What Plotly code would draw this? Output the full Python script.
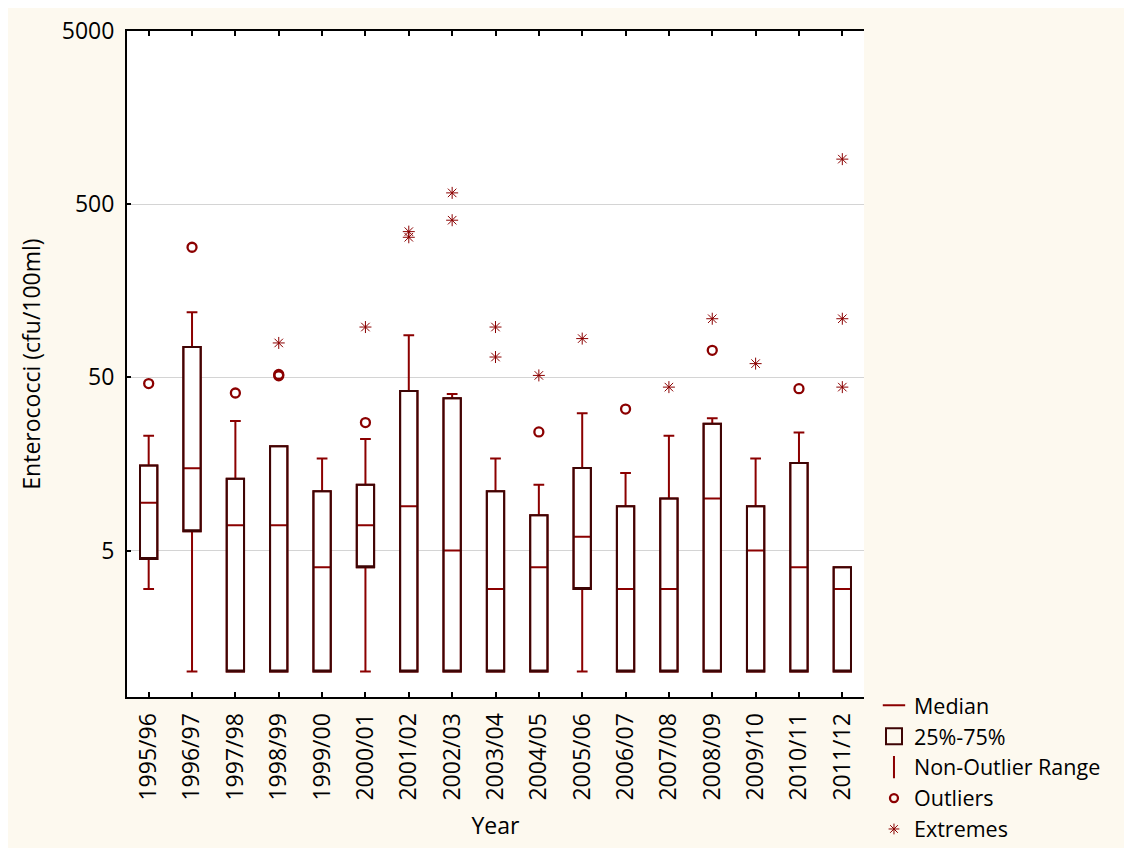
import plotly.graph_objects as go

years = [
    "1995/96", "1996/97", "1997/98", "1998/99", "1999/00", "2000/01",
    "2001/02", "2002/03", "2003/04", "2004/05", "2005/06", "2006/07",
    "2007/08", "2008/09", "2009/10", "2010/11", "2011/12",
]

# box statistics (cfu/100ml)
q1 = [4.47, 6.46, 1, 1, 1, 4, 1, 1, 1, 1, 3, 1, 1, 1, 1, 1, 1]
median = [9.44, 14.95, 7, 7, 4, 7, 9, 5, 3, 4, 6, 3, 3, 10, 5, 4, 3]
q3 = [15.5, 74.8, 13, 20, 11, 12, 41.7, 37.9, 11, 8, 15, 9, 10, 27, 9, 16, 4]
whisker_low = [3, 1, 1, 1, 1, 1, 1, 1, 1, 1, 1, 1, 1, 1, 1, 1, 1]
whisker_high = [23, 119, 28, 20, 17, 22, 87.5, 40, 17, 12, 31, 14, 23, 29, 17, 24, 4]

outlier_years = [
    "1995/96", "1996/97", "1997/98", "1998/99", "1998/99", "2000/01",
    "2004/05", "2006/07", "2008/09", "2010/11",
]
outlier_values = [46, 282, 40.6, 51, 52, 27.4, 24.2, 32.8, 71.6, 43]

extreme_years = [
    "1998/99", "2000/01", "2001/02", "2001/02", "2002/03", "2002/03",
    "2003/04", "2003/04", "2004/05", "2005/06", "2007/08", "2008/09",
    "2009/10", "2011/12", "2011/12", "2011/12",
]
extreme_values = [
    79, 97.6, 347, 322, 581, 404,
    97.6, 65.5, 51.3, 83.7, 43.9, 109,
    60, 910, 109, 43.9,
]

y_ticks = [5, 50, 500, 5000]
right_ticks = [3.07, 13.4, 59.2, 259, 1146]

RED = "#8b0000"
BROWN = "#3e0505"
FONT = "Open Sans, Liberation Sans, Arial, sans-serif"

fig = go.Figure()

# whiskers + red median
fig.add_trace(go.Box(
    x=years, q1=q1, median=median, q3=q3,
    lowerfence=whisker_low, upperfence=whisker_high,
    width=0.4, whiskerwidth=0.62,
    line=dict(color=RED, width=2), fillcolor="white",
    boxpoints=False, showlegend=False, hoverinfo="skip",
))
# darker box outline on top
fig.add_trace(go.Box(
    x=years, q1=q1, median=q1, q3=q3,
    lowerfence=q1, upperfence=q3,
    width=0.4, whiskerwidth=0,
    line=dict(color=BROWN, width=2), fillcolor="rgba(0,0,0,0)",
    boxpoints=False, showlegend=False, hoverinfo="skip",
))

fig.add_trace(go.Scatter(
    x=outlier_years, y=outlier_values, mode="markers",
    marker=dict(symbol="circle-open", size=9, color=RED, line=dict(width=2.3, color=RED)),
    showlegend=False,
))
fig.add_trace(go.Scatter(
    x=extreme_years, y=extreme_values, mode="markers",
    marker=dict(symbol="asterisk-open", size=10, color=RED, line=dict(width=1, color=RED)),
    showlegend=False,
))

# legend-only entries
fig.add_trace(go.Scatter(
    x=[None], y=[None], mode="markers", name="Median",
    marker=dict(symbol="line-ew-open", size=16, color=RED, line=dict(width=2, color=RED)),
))
fig.add_trace(go.Scatter(
    x=[None], y=[None], mode="markers", name="25%-75%",
    marker=dict(symbol="square-open", size=16, color=BROWN, line=dict(width=2, color=BROWN)),
))
fig.add_trace(go.Scatter(
    x=[None], y=[None], mode="markers", name="Non-Outlier Range",
    marker=dict(symbol="line-ns-open", size=16, color=RED, line=dict(width=2, color=RED)),
))
fig.add_trace(go.Scatter(
    x=[None], y=[None], mode="markers", name="Outliers",
    marker=dict(symbol="circle-open", size=8, color=RED, line=dict(width=2.3, color=RED)),
))
fig.add_trace(go.Scatter(
    x=[None], y=[None], mode="markers", name="Extremes",
    marker=dict(symbol="asterisk-open", size=9, color=RED, line=dict(width=1, color=RED)),
))

fig.update_layout(
    width=1132, height=848,
    margin=dict(l=119, r=276, t=23, b=159),
    paper_bgcolor="#fdf9ef",
    plot_bgcolor="white",
    font=dict(family=FONT, size=23, color="black"),
    boxmode="overlay",
    legend=dict(
        xref="container", yref="container",
        x=0.765, y=0.202, xanchor="left", yanchor="top",
        bgcolor="rgba(0,0,0,0)", font=dict(size=21.5),
        tracegroupgap=0, itemwidth=30,
    ),
    xaxis=dict(
        title=dict(text="Year", standoff=18, font=dict(size=23)),
        type="category", range=[-0.5, 16.5], automargin=False,
        tickangle=-90, ticks="inside", ticklen=5, tickwidth=2,
        ticklabelstandoff=5,
        tickcolor="black", showline=True, linecolor="black", linewidth=2,
        mirror="ticks", showgrid=False, zeroline=False,
    ),
    yaxis=dict(
        title=dict(text="Enterococci (cfu/100ml)", font=dict(size=23)),
        type="log", range=[-0.147, 3.699], automargin=False,
        tickvals=y_ticks, ticktext=[str(v) for v in y_ticks],
        ticks="inside", ticklen=4, tickwidth=2, tickcolor="black",
        ticklabelstandoff=6,
        showline=True, linecolor="black", linewidth=2,
        showgrid=True, gridcolor="#d4d4d4", gridwidth=1, zeroline=False,
    ),
    yaxis2=dict(
        type="log", range=[-0.147, 3.699], overlaying="y", side="right",
        automargin=False,
        tickvals=right_ticks, showticklabels=False,
        ticks="inside", ticklen=5, tickwidth=2, tickcolor="black",
        showline=True, linecolor="black", linewidth=2,
        showgrid=False, zeroline=False,
    ),
)

fig.write_html("out.html")
